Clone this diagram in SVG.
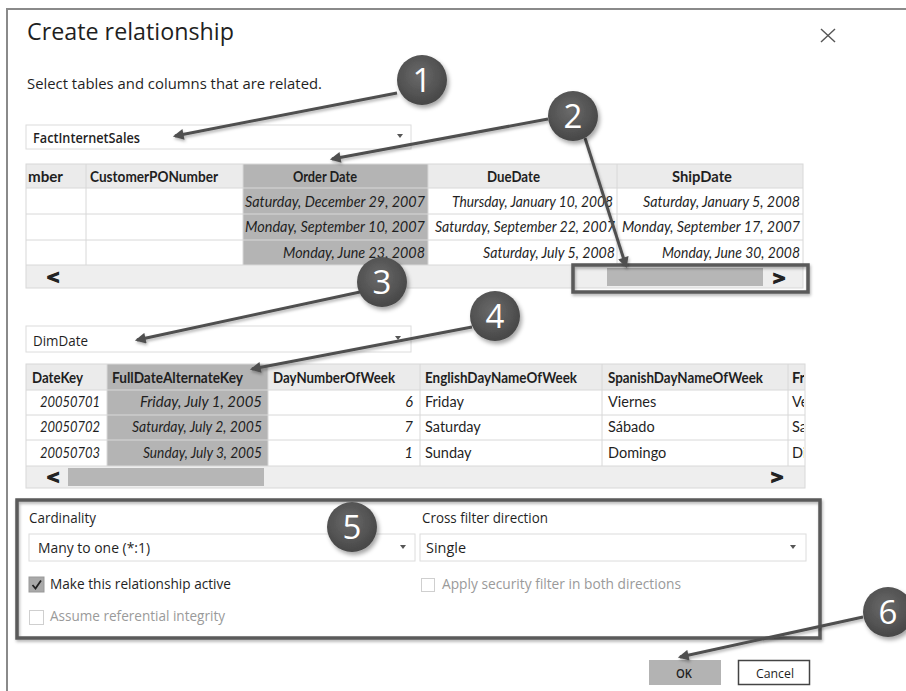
<svg xmlns="http://www.w3.org/2000/svg" width="906" height="691" viewBox="0 0 906 691">
<style>
.ui{font-family:"Open Sans","Liberation Sans",sans-serif;fill:#1f1f1f}
.tb{font-family:Lato,"Open Sans","Liberation Sans",sans-serif;font-size:14.5px;fill:#1f1f1f}
.th{font-weight:700}
.it{font-style:italic}
.end{text-anchor:end}
.dim{fill:#9a9a9a}
.num{font-family:"Open Sans","Liberation Sans",sans-serif;font-size:33px;fill:#ffffff;text-anchor:middle}
.grid{stroke:#d8d8d8;stroke-width:1;fill:none}
.hdr{fill:#ebebeb}
.sel{fill:#b4b4b4}
.scroll{fill:#eeeeee}
.thumb{fill:#b6b6b6}
.box{fill:#ffffff;stroke:#dcdcdc;stroke-width:1}
.caret{fill:#555}
.hl{fill:none;stroke:#5a5a5a;stroke-width:3.5}
.conn{stroke:#505050;stroke-width:3;fill:none;marker-end:url(#ah)}
.dot{fill:url(#cg)}
.chev{font-family:"DejaVu Sans","Liberation Sans",sans-serif;font-weight:700;font-size:17px;fill:#222;stroke:#222;stroke-width:1.2}
</style>
<defs>
<radialGradient id="cg" cx="45%" cy="40%" r="60%">
<stop offset="0" stop-color="#6a6a6a"/>
<stop offset="1" stop-color="#474747"/>
</radialGradient>
<filter id="sh" x="-40%" y="-40%" width="180%" height="180%">
<feDropShadow dx="2" dy="3" stdDeviation="2.2" flood-color="#000" flood-opacity="0.35"/>
</filter>
<filter id="lsh" x="-10%" y="-40%" width="120%" height="180%">
<feDropShadow dx="1" dy="2" stdDeviation="1.5" flood-color="#000" flood-opacity="0.3"/>
</filter>
<marker id="ah" viewBox="0 0 10 10" refX="8" refY="5" markerWidth="4" markerHeight="3.6" orient="auto">
<path d="M0,0 L10,5 L0,10 z" fill="#505050"/>
</marker>
<clipPath id="c1"><rect x="27" y="160" width="776" height="140"/></clipPath>
<clipPath id="c2"><rect x="27" y="360" width="777" height="130"/></clipPath>
</defs>

<rect x="0" y="0" width="906" height="691" fill="#ffffff"/>

<g id="dialog-frame">
<path d="M7,691 V9 H906" fill="none" stroke="#8a8a8a" stroke-width="2"/>
<text class="ui" x="27" y="40" font-size="24" textLength="207" lengthAdjust="spacingAndGlyphs">Create relationship</text>
<g stroke="#555" stroke-width="1.4"><line x1="821" y1="29" x2="835" y2="42"/><line x1="835" y1="29" x2="821" y2="42"/></g>
<text class="ui" x="27" y="89" font-size="15" textLength="295" lengthAdjust="spacingAndGlyphs">Select tables and columns that are related.</text>
</g>

<g id="table1-selector">
<rect class="box" x="26" y="125" width="385" height="24"/>
<text class="ui" x="33" y="143" font-size="14" font-weight="600" textLength="107" lengthAdjust="spacingAndGlyphs">FactInternetSales</text>
<polygon class="caret" points="397,134 403,134 400,138"/>
</g>

<g id="table1-grid">
<rect class="hdr" x="26" y="164" width="777" height="24"/>
<rect fill="#ffffff" x="26" y="188" width="777" height="77"/>
<rect class="sel" x="243" y="164" width="185" height="101"/>
<rect class="scroll" x="26" y="265" width="777" height="23"/>
<g class="grid">
<rect x="26" y="164" width="777" height="124"/>
<line x1="26" y1="188" x2="803" y2="188"/>
<line x1="26" y1="214" x2="803" y2="214"/>
<line x1="26" y1="240" x2="803" y2="240"/>
<line x1="26" y1="265" x2="803" y2="265"/>
<line x1="86" y1="164" x2="86" y2="265"/>
<line x1="243" y1="164" x2="243" y2="265"/>
<line x1="428" y1="164" x2="428" y2="265"/>
<line x1="617" y1="164" x2="617" y2="265"/>
</g>
<g clip-path="url(#c1)">
<text class="tb th" x="28" y="182" textLength="35" lengthAdjust="spacingAndGlyphs">mber</text>
<text class="tb th" x="90" y="182" textLength="128" lengthAdjust="spacingAndGlyphs">CustomerPONumber</text>
<text class="tb th" x="293" y="182" textLength="64" lengthAdjust="spacingAndGlyphs">Order Date</text>
<text class="tb th" x="487" y="182" textLength="53" lengthAdjust="spacingAndGlyphs">DueDate</text>
<text class="tb th" x="672" y="182" textLength="60" lengthAdjust="spacingAndGlyphs">ShipDate</text>
<text class="tb it" x="245" y="207" textLength="180" lengthAdjust="spacingAndGlyphs">Saturday, December 29, 2007</text>
<text class="tb it" x="245" y="232" textLength="180" lengthAdjust="spacingAndGlyphs">Monday, September 10, 2007</text>
<text class="tb it" x="283" y="258" textLength="142" lengthAdjust="spacingAndGlyphs">Monday, June 23, 2008</text>
<text class="tb it" x="452" y="207" textLength="161" lengthAdjust="spacingAndGlyphs">Thursday, January 10, 2008</text>
<text class="tb it" x="435" y="232" textLength="180" lengthAdjust="spacingAndGlyphs">Saturday, September 22, 2007</text>
<text class="tb it" x="483" y="258" textLength="132" lengthAdjust="spacingAndGlyphs">Saturday, July 5, 2008</text>
<text class="tb it" x="643" y="207" textLength="157" lengthAdjust="spacingAndGlyphs">Saturday, January 5, 2008</text>
<text class="tb it" x="622" y="232" textLength="178" lengthAdjust="spacingAndGlyphs">Monday, September 17, 2007</text>
<text class="tb it" x="662" y="258" textLength="138" lengthAdjust="spacingAndGlyphs">Monday, June 30, 2008</text>
</g>
<rect class="thumb" x="607" y="268" width="156" height="18"/>
<text class="chev" x="46" y="283">&lt;</text>
<text class="chev" x="772" y="284">&gt;</text>
<rect class="hl" x="573" y="265" width="235" height="27" filter="url(#lsh)"/>
</g>

<g id="table2-selector">
<rect class="box" x="26" y="326" width="385" height="26"/>
<text class="ui" x="33" y="346" font-size="14" textLength="55" lengthAdjust="spacingAndGlyphs">DimDate</text>
<polygon class="caret" points="395,336 401,336 398,340"/>
</g>

<g id="table2-grid">
<rect class="hdr" x="26" y="364" width="779" height="26"/>
<rect fill="#ffffff" x="26" y="390" width="779" height="76"/>
<rect class="sel" x="107" y="364" width="161" height="102"/>
<rect class="scroll" x="26" y="466" width="779" height="22"/>
<g class="grid">
<rect x="26" y="364" width="779" height="124"/>
<line x1="26" y1="390" x2="805" y2="390"/>
<line x1="26" y1="415" x2="805" y2="415"/>
<line x1="26" y1="440" x2="805" y2="440"/>
<line x1="26" y1="466" x2="805" y2="466"/>
<line x1="107" y1="364" x2="107" y2="466"/>
<line x1="268" y1="364" x2="268" y2="466"/>
<line x1="420" y1="364" x2="420" y2="466"/>
<line x1="602" y1="364" x2="602" y2="466"/>
<line x1="788" y1="364" x2="788" y2="466"/>
</g>
<g clip-path="url(#c2)">
<text class="tb th" x="32" y="383" textLength="51" lengthAdjust="spacingAndGlyphs">DateKey</text>
<text class="tb th" x="112" y="383" textLength="131" lengthAdjust="spacingAndGlyphs">FullDateAlternateKey</text>
<text class="tb th" x="273" y="383" textLength="122" lengthAdjust="spacingAndGlyphs">DayNumberOfWeek</text>
<text class="tb th" x="425" y="383" textLength="152" lengthAdjust="spacingAndGlyphs">EnglishDayNameOfWeek</text>
<text class="tb th" x="608" y="383" textLength="155" lengthAdjust="spacingAndGlyphs">SpanishDayNameOfWeek</text>
<text class="tb th" x="792" y="383">Fr</text>
<text class="tb it" x="40" y="407" textLength="60" lengthAdjust="spacingAndGlyphs">20050701</text>
<text class="tb it" x="40" y="432" textLength="60" lengthAdjust="spacingAndGlyphs">20050702</text>
<text class="tb it" x="40" y="458" textLength="60" lengthAdjust="spacingAndGlyphs">20050703</text>
<text class="tb it" x="140" y="407" textLength="122" lengthAdjust="spacingAndGlyphs">Friday, July 1, 2005</text>
<text class="tb it" x="132" y="432" textLength="130" lengthAdjust="spacingAndGlyphs">Saturday, July 2, 2005</text>
<text class="tb it" x="143" y="458" textLength="119" lengthAdjust="spacingAndGlyphs">Sunday, July 3, 2005</text>
<text class="tb it end" x="413" y="407">6</text>
<text class="tb it end" x="413" y="432">7</text>
<text class="tb it end" x="413" y="458">1</text>
<text class="tb" x="425" y="407">Friday</text>
<text class="tb" x="425" y="432">Saturday</text>
<text class="tb" x="425" y="458">Sunday</text>
<text class="tb" x="608" y="407">Viernes</text>
<text class="tb" x="608" y="432">Sábado</text>
<text class="tb" x="608" y="458">Domingo</text>
<text class="tb" x="792" y="407">Ve</text>
<text class="tb" x="792" y="432">Sa</text>
<text class="tb" x="792" y="458">Di</text>
</g>
<rect class="thumb" x="68" y="468" width="196" height="18"/>
<text class="chev" x="46" y="483">&lt;</text>
<text class="chev" x="770" y="483">&gt;</text>
</g>

<g id="options-panel">
<rect class="hl" x="17" y="500" width="803" height="138" filter="url(#lsh)"/>
<text class="ui" x="29" y="523" font-size="15" textLength="67" lengthAdjust="spacingAndGlyphs">Cardinality</text>
<text class="ui" x="422" y="523" font-size="15" textLength="126" lengthAdjust="spacingAndGlyphs">Cross filter direction</text>
<rect class="box" x="29" y="534" width="386" height="27"/>
<text class="ui" x="38" y="553" font-size="15" textLength="112" lengthAdjust="spacingAndGlyphs">Many to one (*:1)</text>
<polygon class="caret" points="400,545 406,545 403,549"/>
<rect class="box" x="420" y="534" width="386" height="27"/>
<text class="ui" x="426" y="553" font-size="15" textLength="40" lengthAdjust="spacingAndGlyphs">Single</text>
<polygon class="caret" points="790,545 796,545 793,549"/>
<rect x="29" y="577" width="15" height="15" fill="#a9a9a9" stroke="#999" stroke-width="1"/>
<polyline points="32.5,585 35.5,588.5 41,580.5" fill="none" stroke="#222" stroke-width="1.8"/>
<text class="ui" x="50" y="589" font-size="15" textLength="181" lengthAdjust="spacingAndGlyphs">Make this relationship active</text>
<rect x="29.5" y="610.5" width="14" height="14" fill="#fff" stroke="#cfcfcf" stroke-width="1"/>
<text class="ui dim" x="50" y="621" font-size="15" textLength="175" lengthAdjust="spacingAndGlyphs">Assume referential integrity</text>
<rect x="421.5" y="578.5" width="13" height="13" fill="#fff" stroke="#cfcfcf" stroke-width="1"/>
<text class="ui dim" x="442" y="589" font-size="15" textLength="239" lengthAdjust="spacingAndGlyphs">Apply security filter in both directions</text>
</g>

<g id="buttons">
<rect x="649" y="660" width="72" height="25" fill="#b3b3b3"/>
<text class="ui" x="676" y="678" font-size="13" font-weight="600" textLength="16" lengthAdjust="spacingAndGlyphs">OK</text>
<rect x="738.5" y="660.5" width="71" height="24" fill="#fff" stroke="#444" stroke-width="1.5"/>
<text class="ui" x="756" y="678" font-size="13.5" textLength="38" lengthAdjust="spacingAndGlyphs">Cancel</text>
</g>

<g id="connectors" filter="url(#lsh)">
<line class="conn" x1="397" y1="93" x2="175" y2="136"/>
<line class="conn" x1="548" y1="119" x2="332" y2="159"/>
<line class="conn" x1="585" y1="138" x2="626" y2="266"/>
<line class="conn" x1="360" y1="292" x2="137" y2="340"/>
<line class="conn" x1="472" y1="327" x2="252" y2="369"/>
<line class="conn" x1="863" y1="617" x2="680" y2="657"/>
</g>

<g id="callout-1"><circle class="dot" cx="422" cy="80" r="25" filter="url(#sh)"/><text class="num" x="422" y="92">1</text></g>
<g id="callout-2"><circle class="dot" cx="573" cy="116" r="25" filter="url(#sh)"/><text class="num" x="573" y="128">2</text></g>
<g id="callout-3"><circle class="dot" cx="382" cy="282" r="25" filter="url(#sh)"/><text class="num" x="382" y="294">3</text></g>
<g id="callout-4"><circle class="dot" cx="495" cy="316" r="25" filter="url(#sh)"/><text class="num" x="495" y="328">4</text></g>
<g id="callout-5"><circle class="dot" cx="352" cy="527" r="25" filter="url(#sh)"/><text class="num" x="352" y="539">5</text></g>
<g id="callout-6"><circle class="dot" cx="888" cy="612" r="25" filter="url(#sh)"/><text class="num" x="888" y="624">6</text></g>
</svg>
